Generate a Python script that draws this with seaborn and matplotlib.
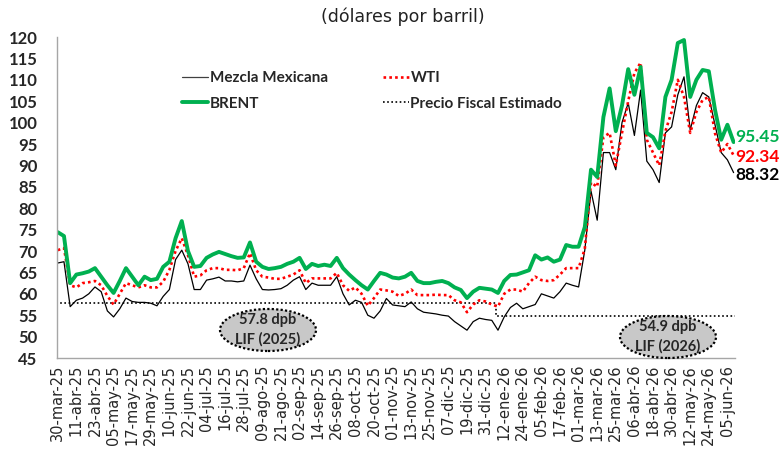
import pandas as pd
import matplotlib
matplotlib.use("Agg")
import matplotlib.pyplot as plt
from matplotlib.patches import Ellipse
from matplotlib.lines import Line2D
import seaborn as sns

# precios diarios (muestra cada 4 dias), dolares por barril
start_date = "2025-03-30"
mezcla = [67.2, 67.5, 57.0, 58.5, 59.0, 60.0, 61.6, 60.5, 56.0, 54.6,
          56.5, 59.0, 58.2, 58.0, 58.0, 57.8, 57.2, 59.4, 61.0, 68.0,
          70.2, 67.0, 61.0, 61.0, 63.2, 63.5, 63.9, 63.0, 63.0, 62.8,
          63.0, 66.7, 63.5, 61.0, 60.9, 61.0, 61.2, 62.0, 63.2, 64.0,
          61.0, 62.5, 62.0, 62.0, 62.0, 64.0, 60.0, 57.4, 58.5, 58.0,
          55.0, 54.3, 56.0, 58.9, 57.4, 57.2, 57.0, 58.1, 56.5, 55.7,
          55.5, 55.3, 55.0, 54.8, 53.5, 52.5, 51.5, 53.5, 54.3, 54.0,
          53.8, 51.5, 54.6, 56.8, 57.8, 56.5, 57.0, 57.5, 60.0, 59.5,
          59.0, 60.5, 62.5, 62.0, 61.6, 70.2, 84.0, 77.2, 93.0, 93.0,
          89.0, 100.0, 104.6, 97.0, 107.6, 91.0, 89.0, 86.0, 97.6, 99.0,
          106.5, 110.7, 98.3, 104.0, 107.0, 106.0, 99.5, 93.0, 91.3, 88.32]
wti = [70.2, 70.7, 62.0, 61.5, 62.5, 62.7, 63.0, 62.0, 59.5, 57.5,
       60.0, 62.5, 62.0, 61.5, 62.0, 61.5, 61.5, 62.8, 65.6, 70.0,
       73.0, 69.0, 64.0, 64.3, 65.5, 66.0, 66.0, 65.6, 65.6, 65.5,
       66.0, 69.5, 65.5, 64.0, 63.8, 63.5, 63.5, 64.0, 64.5, 65.5,
       62.5, 63.6, 63.6, 63.6, 63.6, 64.9, 62.0, 60.7, 61.5, 60.0,
       57.2, 59.0, 61.0, 60.8, 60.5, 59.5, 60.0, 61.0, 59.7, 59.7,
       59.7, 59.8, 59.7, 59.7, 58.5, 58.0, 55.7, 57.5, 58.5, 58.2,
       57.5, 57.0, 60.0, 61.0, 61.0, 60.5, 62.5, 64.0, 63.2, 63.0,
       63.2, 64.5, 66.0, 66.0, 66.0, 70.5, 86.0, 85.0, 96.6, 97.6,
       90.0, 97.6, 105.0, 111.6, 114.0, 96.0, 93.0, 90.0, 98.0, 102.5,
       110.0, 106.0, 97.6, 102.5, 105.3, 106.0, 97.5, 93.0, 95.0, 92.34]
brent = [74.4, 73.5, 62.5, 64.5, 64.8, 65.2, 66.0, 64.0, 62.0, 60.2,
         63.0, 66.0, 64.0, 62.0, 64.0, 63.2, 63.5, 66.3, 67.5, 73.0,
         77.0, 70.0, 66.3, 66.5, 68.4, 69.2, 69.8, 69.3, 68.8, 68.4,
         68.5, 72.0, 67.5, 66.3, 65.8, 66.0, 66.3, 67.0, 67.5, 68.4,
         65.8, 67.0, 66.5, 66.8, 66.5, 68.4, 66.0, 64.5, 63.2, 62.0,
         61.0, 63.0, 64.9, 64.5, 63.8, 63.6, 64.0, 64.9, 63.0, 62.5,
         62.5, 62.8, 63.0, 62.5, 61.5, 60.9, 59.0, 60.5, 61.4, 61.2,
         61.0, 60.2, 63.0, 64.4, 64.5, 65.0, 65.5, 69.0, 68.0, 68.5,
         67.5, 68.0, 71.4, 71.0, 71.0, 75.6, 89.0, 87.3, 101.3, 108.0,
         98.0, 104.0, 112.5, 106.5, 113.0, 97.6, 96.6, 94.0, 106.0, 110.0,
         118.6, 119.3, 106.0, 110.0, 112.3, 112.0, 103.0, 96.0, 99.5, 95.45]

fiscal_dates = ["2025-03-29", "2026-01-07", "2026-01-07", "2026-06-10"]
fiscal_vals = [57.8, 57.8, 54.9, 54.9]

tick_labels = ["30-mar-25", "11-abr-25", "23-abr-25", "05-may-25", "17-may-25",
               "29-may-25", "10-jun-25", "22-jun-25", "04-jul-25", "16-jul-25",
               "28-jul-25", "09-ago-25", "21-ago-25", "02-sep-25", "14-sep-25",
               "26-sep-25", "08-oct-25", "20-oct-25", "01-nov-25", "13-nov-25",
               "25-nov-25", "07-dic-25", "19-dic-25", "31-dic-25", "12-ene-26",
               "24-ene-26", "05-feb-26", "17-feb-26", "01-mar-26", "13-mar-26",
               "25-mar-26", "06-abr-26", "18-abr-26", "30-abr-26", "12-may-26",
               "24-may-26", "05-jun-26"]

df = pd.DataFrame({"fecha": pd.date_range(start_date, periods=len(brent), freq="4D"),
                   "Mezcla Mexicana": mezcla, "WTI": wti, "BRENT": brent})
fiscal = pd.DataFrame({"fecha": pd.to_datetime(fiscal_dates), "valor": fiscal_vals})
tick_pos = pd.date_range(start_date, periods=len(tick_labels), freq="12D")

sns.set_style("white")
plt.rcParams["font.family"] = ["Lato", "DejaVu Sans"]

green = "#00b050"
fig = plt.figure(figsize=(7.84, 4.61), dpi=100)
ax = fig.add_axes([0.0727, 0.2234, 0.865, 0.6963])

sns.lineplot(data=fiscal, x="fecha", y="valor", ax=ax, color="black",
             linestyle=(0, (1, 1.5)), linewidth=1.2, estimator=None, sort=False)
sns.lineplot(data=df, x="fecha", y="Mezcla Mexicana", ax=ax, color="black", linewidth=0.9)
sns.lineplot(data=df, x="fecha", y="WTI", ax=ax, color="#ff0000",
             linestyle=(0, (1, 1.2)), linewidth=1.9)
sns.lineplot(data=df, x="fecha", y="BRENT", ax=ax, color=green, linewidth=2.8)

ax.set_xlim(pd.Timestamp("2025-03-29 12:00"), pd.Timestamp("2026-06-10"))
ax.set_ylim(45, 120)
ax.set_yticks(range(45, 121, 5))
ax.tick_params(axis="y", length=0, pad=14, labelsize=12)
for t in ax.get_yticklabels():
    t.set_fontweight("bold")
ax.set_xticks(tick_pos)
ax.set_xticklabels(tick_labels, rotation=90, fontsize=10.5, family="DejaVu Sans")
ax.tick_params(axis="x", length=0, pad=5)
ax.set_xlabel("")
ax.set_ylabel("")
for s in ["top", "right"]:
    ax.spines[s].set_visible(False)
for s in ["left", "bottom"]:
    ax.spines[s].set_color("#a6a6a6")
    ax.spines[s].set_linewidth(1)

# valores finales
last = df["fecha"].iloc[-1]
for val, col, ypos in [(brent[-1], green, 96.6), (wti[-1], "#ff0000", 92.0), (mezcla[-1], "black", 87.8)]:
    ax.annotate(f"{val:.2f}", xy=(last, ypos), xytext=(1, 0), textcoords="offset points",
                ha="left", va="center", fontsize=12.5, fontweight="bold", color=col,
                annotation_clip=False)

handles = [Line2D([], [], color="#404040", lw=0.9),
           Line2D([], [], color=green, lw=2.8),
           Line2D([], [], color="#ff0000", lw=1.9, linestyle=(0, (1, 1.2))),
           Line2D([], [], color="black", lw=1.2, linestyle=(0, (1, 1.5)))]
labels = ["Mezcla Mexicana", "BRENT", "WTI", "Precio Fiscal Estimado"]
leg = fig.legend(handles, labels, ncol=2, loc="upper left", bbox_to_anchor=(0.215, 0.875),
                 frameon=False, handlelength=1.7, handletextpad=0.1, columnspacing=3.6,
                 labelspacing=0.75, prop={"weight": "bold", "size": 11})

# elipses LIF
for cx, cy, txt in [(268, 330, "57.8 dpb\nLIF (2025)"), (668, 337, "54.9 dpb\nLIF (2026)")]:
    e = Ellipse((cx / 784, 1 - cy / 461), 96 / 784, 42 / 461, transform=fig.transFigure,
                facecolor="#c8c8c8", edgecolor="black", linestyle=(0, (1, 1)), linewidth=1.6)
    fig.add_artist(e)
    fig.text(cx / 784, 1 - cy / 461, txt, ha="center", va="center", fontsize=10.5,
             fontweight="bold", linespacing=1.45)

fig.text(403 / 784, 1 - 17 / 461, "(dólares por barril)", ha="center", va="center",
         fontsize=12.5, family="DejaVu Sans", color="#222222")

fig.savefig("out.png", dpi=100)
